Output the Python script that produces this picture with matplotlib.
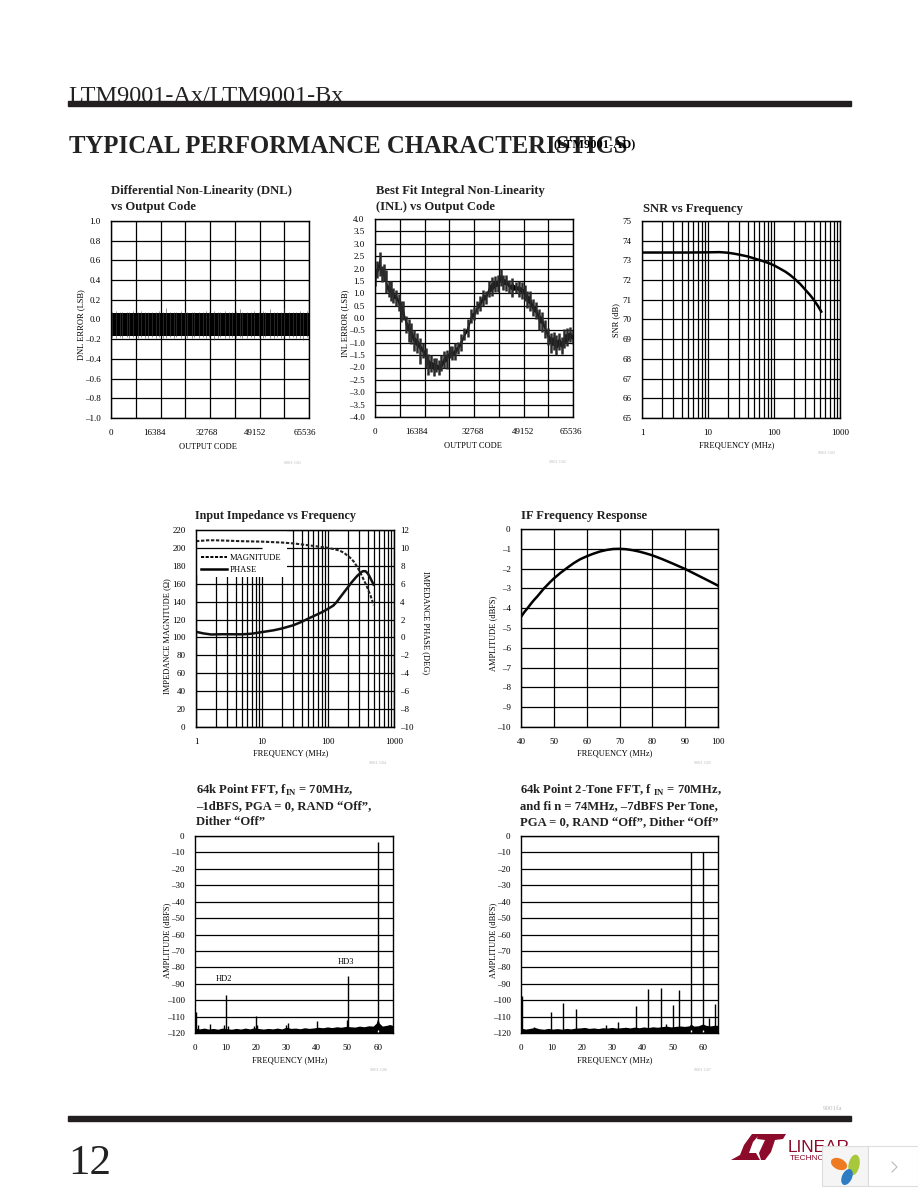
import matplotlib
matplotlib.use("Agg")
import matplotlib.pyplot as plt
from matplotlib.lines import Line2D
from matplotlib.patches import Rectangle, Polygon, Ellipse
from matplotlib.transforms import ScaledTranslation

plt.rcParams['font.family'] = ['Liberation Serif', 'DejaVu Serif']
plt.rcParams['mathtext.fontset'] = 'custom'
plt.rcParams['mathtext.rm'] = 'Liberation Serif:bold'
plt.rcParams['mathtext.bf'] = 'Liberation Serif:bold'

W, H = 918, 1188

# DNL noise band and the spikes sticking out of it
dnl_band_code = [0, 65536]
dnl_band_hi = [0.068, 0.068]
dnl_band_lo = [-0.172, -0.172]
dnl_spike_code = [400, 1500, 2900, 3600, 5200, 6100, 7400, 8800, 9900, 11300, 12100, 13700, 14800, 15900, 17200, 18300,
                  19600, 20700, 21500, 23100, 24400, 25200, 26700, 27600, 29100, 30300, 31500, 32600, 34100, 35300,
                  36200, 37800, 38900, 40100, 41400, 42700, 43500, 45100, 46400, 47300, 48900, 50200, 51000, 52600,
                  53900, 55100, 56300, 57400, 58900, 60100, 61200, 62500, 63700, 64900]
dnl_spike_hi = [0.078, 0.085, 0.075, 0.08, 0.076, 0.074, 0.09, 0.078, 0.082, 0.074, 0.078, 0.08, 0.075, 0.085, 0.078, 0.115,
                0.08, 0.076, 0.074, 0.082, 0.09, 0.076, 0.074, 0.08, 0.078, 0.074, 0.085, 0.076, 0.09, 0.074,
                0.078, 0.082, 0.074, 0.076, 0.085, 0.105, 0.078, 0.08, 0.074, 0.09, 0.076, 0.085, 0.074, 0.11,
                0.08, 0.076, 0.074, 0.115, 0.08, 0.076, 0.074, 0.085, 0.078, 0.082]
dnl_spike_lo = [-0.182, -0.188, -0.18, -0.19, -0.182, -0.186, -0.18, -0.192, -0.182, -0.186, -0.19, -0.18, -0.186, -0.182, -0.19, -0.186,
                -0.18, -0.192, -0.182, -0.186, -0.18, -0.19, -0.186, -0.182, -0.192, -0.18, -0.186, -0.182, -0.205, -0.186,
                -0.18, -0.19, -0.186, -0.182, -0.192, -0.18, -0.186, -0.19, -0.182, -0.186, -0.18, -0.192, -0.182, -0.186,
                -0.19, -0.18, -0.186, -0.182, -0.19, -0.18, -0.186, -0.192, -0.205, -0.182]

# INL envelope
inl_code = [0, 700, 1500, 2200, 3000, 3700, 4500, 5300, 6000, 7000, 7800, 8500, 9300, 10200, 11100, 12000,
            13000, 14000, 14900, 15800, 16800, 17600, 18500, 19400, 20300, 21200, 22000, 22800, 23700, 24700,
            25600, 26600, 27500, 28500, 29500, 30800, 31900, 32900, 33800, 34700, 35700, 36600, 37700, 38700,
            39700, 40700, 41600, 42500, 43500, 44500, 45500, 46600, 47500, 48500, 49500, 50300, 51200, 52200,
            53200, 54200, 55200, 56200, 57200, 58200, 59100, 60000, 60900, 61800, 62700, 63700, 64600, 65536]
inl_hi = [2.0, 2.3, 2.65, 2.1, 2.2, 1.95, 1.5, 1.5, 1.2, 1.15, 0.95, 0.7, 0.7, 0.1, -0.05, -0.2,
          -0.5, -0.6, -0.8, -1.0, -1.2, -1.45, -1.5, -1.6, -1.6, -1.7, -1.5, -1.35, -1.3, -1.15,
          -1.15, -1.0, -0.95, -0.65, -0.4, -0.05, 0.35, 0.45, 0.7, 0.9, 1.15, 1.1, 1.5, 1.65,
          1.7, 1.75, 2.0, 1.75, 1.75, 1.55, 1.6, 1.45, 1.5, 1.45, 1.35, 1.1, 1.1, 0.75,
          0.65, 0.35, 0.25, -0.1, -0.4, -0.6, -0.55, -0.7, -0.6, -0.75, -0.45, -0.4, -0.35, -0.5]
inl_lo = [1.3, 1.6, 1.7, 1.45, 1.5, 1.0, 0.85, 0.7, 0.6, 0.5, 0.3, -0.15, -0.1, -0.6, -0.95, -1.05,
          -1.35, -1.4, -1.85, -1.6, -2.0, -2.3, -2.2, -2.35, -2.2, -2.3, -2.15, -2.0, -2.05, -1.6,
          -1.7, -1.7, -1.45, -1.35, -0.9, -0.75, -0.2, -0.1, 0.15, 0.3, 0.5, 0.55, 0.85, 0.9,
          1.05, 1.05, 1.3, 1.15, 1.1, 1.0, 0.85, 1.0, 0.85, 0.75, 0.7, 0.4, 0.3, 0.1,
          -0.05, -0.5, -0.55, -0.8, -1.1, -1.4, -1.3, -1.5, -1.3, -1.45, -1.2, -1.15, -0.95, -1.05]
inl_core_hi = [1.85, 2.1, 2.45, 1.9, 2.05, 1.45, 1.3, 1.25, 1.0, 0.95, 0.75, 0.5, 0.45, -0.1, -0.25, -0.45,
               -0.75, -0.85, -1.05, -1.2, -1.4, -1.65, -1.75, -1.8, -1.85, -1.9, -1.75, -1.55, -1.5, -1.3,
               -1.35, -1.2, -1.1, -0.85, -0.6, -0.25, 0.2, 0.25, 0.55, 0.7, 0.95, 0.95, 1.3, 1.45,
               1.5, 1.55, 1.8, 1.6, 1.55, 1.35, 1.4, 1.3, 1.3, 1.25, 1.15, 0.9, 0.9, 0.55,
               0.45, 0.15, 0.05, -0.3, -0.6, -0.8, -0.75, -0.9, -0.8, -0.95, -0.65, -0.6, -0.55, -0.7]
inl_core_lo = [1.55, 1.8, 2.05, 1.7, 1.7, 1.2, 1.05, 1.0, 0.8, 0.75, 0.5, 0.15, 0.15, -0.4, -0.55, -0.8,
               -1.05, -1.15, -1.3, -1.4, -1.75, -2.0, -2.0, -2.1, -2.05, -2.1, -2.0, -1.8, -1.75, -1.45,
               -1.5, -1.45, -1.25, -1.1, -0.75, -0.5, 0.0, 0.1, 0.35, 0.45, 0.7, 0.75, 1.05, 1.1,
               1.25, 1.3, 1.5, 1.35, 1.35, 1.2, 1.1, 1.15, 1.1, 1.0, 0.95, 0.65, 0.55, 0.3,
               0.2, -0.15, -0.25, -0.5, -0.85, -1.1, -1.1, -1.25, -1.1, -1.2, -1.0, -0.95, -0.8, -0.9]

# SNR
snr_f = [1, 2, 5, 10, 15, 20, 25, 30, 40, 50, 60, 70, 85, 100, 125, 150, 175, 200, 250, 300, 350, 400, 460, 520]
snr_db = [73.4, 73.4, 73.4, 73.41, 73.42, 73.39, 73.34, 73.29, 73.2, 73.1, 73.02, 72.95, 72.85, 72.75, 72.57, 72.42,
          72.26, 72.1, 71.8, 71.5, 71.25, 71.0, 70.7, 70.4]

# impedance
imp_f = [1, 1.5, 2, 5, 10, 20, 30, 50, 80, 100, 125, 150, 175, 200, 225, 250, 270, 286, 310, 330, 355, 383, 410, 440, 465, 493]
imp_mag = [207.5, 208.5, 208.5, 207.5, 207, 206, 205, 203, 201, 200, 198.5, 197, 194.5, 191, 188, 184, 180, 177, 172, 168,
           163, 158, 152.5, 147, 141.5, 136]
phase_f = [1, 1.3, 1.7, 2.5, 5, 7, 10, 15, 20, 30, 40, 50, 70, 85, 100, 120, 135, 150, 175, 200, 225, 250, 275, 300, 320, 340,
           370, 400, 420, 440, 465, 490]
phase_deg = [0.63, 0.45, 0.33, 0.36, 0.35, 0.42, 0.6, 0.8, 1.0, 1.37, 1.75, 2.1, 2.6, 2.9, 3.2, 3.55, 3.95, 4.4, 5.05, 5.6, 6.1,
             6.5, 6.85, 7.1, 7.3, 7.4, 7.4, 7.15, 6.9, 6.6, 6.25, 5.9]

# IF response
if_f = [40, 41, 42, 43, 44, 45, 46, 47, 48, 49, 50, 52, 54, 56, 58, 60, 62, 64, 66, 68, 70, 72, 74, 76, 78, 80, 83, 86, 90, 93, 96, 100]
if_db = [-4.44, -4.2, -4.0, -3.78, -3.58, -3.4, -3.2, -3.0, -2.83, -2.66, -2.5, -2.22, -1.97, -1.73, -1.53, -1.38, -1.25, -1.14,
         -1.06, -1.01, -1.0, -1.02, -1.07, -1.14, -1.23, -1.33, -1.52, -1.73, -2.02, -2.27, -2.52, -2.86]

# FFT 1
fft1_f = [0.3, 1.0, 5.0, 9.5, 10.1, 10.8, 19.4, 20.0, 20.5, 30.0, 30.4, 40.1, 50.0, 50.2, 60.0, 64.0]
fft1_db = [-107, -115, -114.5, -115, -96.7, -115.5, -115.5, -109.5, -115, -115, -114, -112.5, -112, -85, -3.9, -115.5]
fft1_floor_f = [0, 1.5, 3, 4.5, 6, 7.5, 9, 10.5, 12, 13.5, 15, 16.5, 18, 19.5, 21, 22.5, 24, 25.5, 27, 28.5, 30, 31.5, 33, 34.5,
                36, 37.5, 39, 40.5, 42, 43.5, 45, 46.5, 48, 49.5, 51, 52.5, 54, 55.5, 57, 58.5, 59.5, 60, 60.5, 61.5, 63, 64, 65]
fft1_floor_db = [-117, -117.5, -117, -117.6, -117.2, -117.7, -117, -117.4, -117.7, -117.2, -117.6, -117, -117.5, -116.8, -117.3,
                 -117.6, -117.2, -117.5, -117, -117.5, -116.5, -117.2, -117, -117.4, -116.8, -117.2, -116.9, -116.5, -116.8, -116.3,
                 -116.7, -116.2, -116.5, -116, -116.2, -116.4, -115.8, -116.2, -115.6, -115.8, -114, -111, -114, -115.8, -115.3,
                 -114.8, -115.5]
fft1_notch = [60]

# FFT 2
fft2_f = [0.2, 4.3, 10, 14, 18, 28, 32, 38, 42, 46.2, 48, 50, 52, 56, 60, 62, 64]
fft2_db = [-97.5, -116.5, -107, -102, -105.5, -115, -113, -103.5, -93, -92.5, -114.5, -103, -94, -10, -10, -110.7, -102.5]
fft2_floor_f = [0, 1.5, 3, 4.5, 6, 7.5, 9, 10.5, 12, 13.5, 15, 16.5, 18, 19.5, 21, 22.5, 24, 25.5, 27, 28.5, 30, 31.5, 33, 34.5,
                36, 37.5, 39, 40.5, 42, 43.5, 45, 46.5, 48, 49.5, 51, 52.5, 54, 55.5, 56, 57, 58.5, 60, 61, 62.5, 64, 65]
fft2_floor_db = [-117, -117.6, -117.2, -116.6, -117.4, -117.7, -117.2, -117.6, -117.3, -117.7, -117.2, -117.5, -117, -116.9, -116.6,
                 -117.2, -116.9, -117.3, -116.8, -117, -116.6, -117, -116.8, -116.5, -116.9, -116.4, -116.8, -116.3, -116.7, -116.2,
                 -116.5, -116.1, -115.8, -116.3, -116, -115.7, -116, -115.6, -114.5, -115.8, -115.6, -114.5, -115.3, -115.7, -115.2, -115.4]
fft2_notch = [56, 60]

fig = plt.figure(figsize=(W / 100, H / 100), dpi=100)

page = fig.add_axes([0, 0, 1, 1], zorder=5)
page.set_xlim(0, W)
page.set_ylim(H, 0)
page.axis('off')
page.patch.set_alpha(0)


def txt(x, y, s, size=6.0, ha='center', va='center', **kw):
    page.text(x, y, s, fontsize=size, ha=ha, va=va, **kw)


def panel(left, top, right, bottom):
    ax = fig.add_axes([left / W, 1 - bottom / H, (right - left) / W, (bottom - top) / H])
    for s in ax.spines.values():
        s.set_linewidth(1.0)
    ax.tick_params(which='both', length=0, labelsize=6.5)
    ax.tick_params(axis='x', which='both', pad=8)
    ax.tick_params(axis='y', which='both', pad=7.5)
    ax.grid(True, color='k', lw=0.9)
    ax.set_axisbelow(True)
    return ax


def dash(vals, fmt):
    return [fmt.format(v).replace('-', '\u2013') for v in vals]


def nudge_xlabels(ax, dxs):
    # the printed labels do not sit exactly under their grid lines
    for lab, dx in zip(ax.get_xticklabels(), dxs):
        lab.set_transform(lab.get_transform() + ScaledTranslation(dx / 100, 0, fig.dpi_scale_trans))


# header
txt(68, 102, 'LTM9001-Ax/LTM9001-Bx', size=17.5, ha='left', va='baseline', color='#222222')
page.add_patch(Rectangle((68, 101), 783, 5, color='#231f20', zorder=3))
txt(69, 153, 'TYPICAL PERFORMANCE CHARACTERISTICS', size=17.85, ha='left', va='baseline', weight='bold', color='#222222')
txt(553, 145.5, '(LTM9001-AD)', size=8.9, ha='left', weight='bold')

code_ticks = range(0, 65537, 8192)
code_labels = ['0', '', '16384', '', '32768', '', '49152', '', '65536']

# DNL
ax = panel(111, 221, 309, 418)
ax.vlines(dnl_spike_code, dnl_spike_lo, dnl_spike_hi, color='#444444', lw=0.4)
ax.fill_between(dnl_band_code, dnl_band_lo, dnl_band_hi, color='k', lw=0)
ax.set_xlim(0, 65536)
ax.set_ylim(-1, 1)
ax.set_xticks(code_ticks, code_labels)
ax.set_yticks([v / 10 for v in range(-10, 11, 2)], dash([v / 10 for v in range(-10, 11, 2)], '{:.1f}'))
nudge_xlabels(ax, [0, 0, -6, 0, -3, 0, -4, 0, -4])

# INL
ax = panel(375, 219, 573, 417)
ax.vlines(inl_code, inl_lo, inl_hi, color='#2a2a2a', lw=1.8)
ax.fill_between(inl_code, inl_core_lo, inl_core_hi, color='k', lw=0)
ax.set_xlim(0, 65536)
ax.set_ylim(-4, 4)
ax.set_xticks(code_ticks, code_labels)
ax.set_yticks([v / 2 for v in range(-8, 9)], dash([v / 2 for v in range(-8, 9)], '{:.1f}'))
nudge_xlabels(ax, [0, 0, -8, 0, -1, 0, -1, 0, -2])

decades = [1, 10, 100, 1000]
log_minor = [m * d for d in (1, 10, 100) for m in range(2, 10)]

# SNR
ax = panel(642, 221, 840, 418)
ax.plot(snr_f, snr_db, color='k', lw=1.8)
ax.set_xscale('log')
ax.set_xlim(1, 1000)
ax.set_ylim(65, 75)
ax.set_xticks(decades, [str(d) for d in decades])
ax.set_xticks(log_minor, minor=True)
ax.set_xticklabels([], minor=True)
ax.set_yticks(range(65, 76), [str(v) for v in range(65, 76)])
ax.grid(True, which='minor', axis='x', color='k', lw=0.9)
ax.tick_params(which='both', length=0)

# impedance
ax = panel(196, 530, 394, 727)
# the printed legend blanks the grid above and behind it, apart from the 200 ohm line
ax.add_patch(Rectangle((0, 0.772), 0.46, 0.228, transform=ax.transAxes, fc='white', ec='none', zorder=1))
ax.hlines(200, 1, 10, color='k', lw=0.9, zorder=1.5)
ax.plot(imp_f, imp_mag, color='#222222', lw=1.5, ls=(0, (1.6, 0.8)))
ax.set_xscale('log')
ax.set_xlim(1, 1000)
ax.set_ylim(0, 220)
ax.set_xticks(decades, [str(d) for d in decades])
ax.set_xticks(log_minor, minor=True)
ax.set_xticklabels([], minor=True)
ax.set_yticks(range(0, 221, 20), [str(v) for v in range(0, 221, 20)])
ax.grid(True, which='minor', axis='x', color='k', lw=0.9)
ax.tick_params(which='both', length=0)
ax2 = ax.twinx()
ax2.plot(phase_f, phase_deg, color='#111111', lw=1.8)
ax2.set_ylim(-10, 12)
ax2.set_yticks(range(-10, 13, 2), dash(range(-10, 13, 2), '{}'))
ax2.tick_params(length=0, labelsize=6.5, pad=4.5)
handles = [Line2D([], [], color='k', lw=1.4, ls=(0, (1.6, 0.8))), Line2D([], [], color='k', lw=1.8)]
ax2.legend(handles, ['MAGNITUDE', 'PHASE'], loc='upper left', bbox_to_anchor=(0.015, 0.89),
           fontsize=6.1, frameon=True, framealpha=1, edgecolor='none', fancybox=False, borderpad=0.25,
           borderaxespad=0, handlelength=3.0, handletextpad=0.4, labelspacing=0.55)

# IF
ax = panel(521, 529, 718, 727)
ax.plot(if_f, if_db, color='k', lw=1.8)
ax.set_xlim(40, 100)
ax.set_ylim(-10, 0)
ax.set_xticks(range(40, 101, 10), [str(v) for v in range(40, 101, 10)])
ax.set_yticks(range(-10, 1), dash(range(-10, 1), '{}'))

# FFT panels
for box, f, db, ff, fd, notch in [((195, 836, 393, 1033), fft1_f, fft1_db, fft1_floor_f, fft1_floor_db, fft1_notch),
                                  ((521, 836, 718, 1033), fft2_f, fft2_db, fft2_floor_f, fft2_floor_db, fft2_notch)]:
    ax = panel(*box)
    ax.grid(False, axis='x')
    ax.fill_between(ff, -120, fd, color='k', lw=0)
    ax.vlines(f, -120, db, color='k', lw=1.0)
    ax.vlines(notch, -119.5, -118, color='white', lw=1.0)
    ax.set_xlim(0, 65)
    ax.set_ylim(-120, 0)
    ax.set_xticks(range(0, 61, 10), [str(v) for v in range(0, 61, 10)])
    ax.set_yticks(range(-120, 1, 10), dash(range(-120, 1, 10), '{}'))

# titles
title_kw = dict(size=9.05, ha='left', weight='bold', color='#222222')
txt(111, 191, 'Differential Non-Linearity (DNL)', **title_kw)
txt(111, 207, 'vs Output Code', **title_kw)
txt(376, 191, 'Best Fit Integral Non-Linearity', **title_kw)
txt(376, 207, '(INL) vs Output Code', **title_kw)
txt(643, 209, 'SNR vs Frequency', **title_kw)
txt(195, 516, 'Input Impedance vs Frequency', size=8.75, ha='left', weight='bold', color='#222222')
txt(521, 516, 'IF Frequency Response', **title_kw)
txt(196, 790, '64k Point FFT, f$_{\\mathbf{IN}}$ = 70MHz,', **title_kw)
txt(196, 806, '\u20131dBFS, PGA = 0, RAND \u201cOff\u201d,', **title_kw)
txt(196, 822, 'Dither \u201cOff\u201d', **title_kw)
txt(520, 790, '64k Point 2-Tone FFT, f $_{\\mathbf{IN}}$ = 70MHz,', **title_kw)
txt(520, 806, 'and fi n = 74MHz, \u20137dBFS Per Tone,', **title_kw)
txt(520, 822, 'PGA = 0, RAND \u201cOff\u201d, Dither \u201cOff\u201d', **title_kw)

# axis labels
txt(208, 447, 'OUTPUT CODE')
txt(473, 446, 'OUTPUT CODE')
txt(737, 445, 'FREQUENCY (MHz)')
txt(291, 753, 'FREQUENCY (MHz)')
txt(615, 753, 'FREQUENCY (MHz)')
txt(290, 1060, 'FREQUENCY (MHz)')
txt(615, 1060, 'FREQUENCY (MHz)')
txt(81, 325, 'DNL ERROR (LSB)', rotation=90)
txt(345, 323, 'INL ERROR (LSB)', rotation=90)
txt(616, 320, 'SNR (dB)', rotation=90)
txt(167, 636, 'IMPEDANCE MAGNITUDE (\u03a9)', rotation=90)
txt(426, 623, 'IMPEDANCE PHASE (DEG)', rotation=270)
txt(493, 633, 'AMPLITUDE (dBFS)', rotation=90)
txt(167, 940, 'AMPLITUDE (dBFS)', rotation=90)
txt(493, 940, 'AMPLITUDE (dBFS)', rotation=90)
txt(224, 979, 'HD2')
txt(346, 962, 'HD3')

# figure codes
for x, y, code in [(293, 463, 'G01'), (558, 462, 'G02'), (827, 453, 'G03'), (378, 763, 'G04'),
                   (703, 763, 'G05'), (378, 1070, 'G06'), (703, 1070, 'G07')]:
    txt(x, y, '9001 ' + code, size=3.2, color='#bbbbbb')

# footer
page.add_patch(Rectangle((68, 1116), 783, 5, color='#231f20'))
txt(823, 1108, '9001fa', size=5, ha='left', color='#bbbbbb')
txt(68, 1174, '12', size=31, ha='left', va='baseline', color='#222222')

red = '#8c0a2a'
page.add_patch(Polygon([(731, 1160), (740, 1155), (744, 1145), (752, 1134), (760, 1134), (753, 1142), (749, 1153),
                        (756, 1153), (760, 1160)], color=red, lw=0))
page.add_patch(Polygon([(758, 1134), (786, 1134), (783, 1139), (775, 1140), (771, 1152), (765, 1160), (761, 1160),
                        (759, 1153), (765, 1140), (757, 1139)], color=red, lw=0))
txt(788, 1152, 'LINEAR', size=12.4, ha='left', va='baseline', color=red, family=['Liberation Sans'])
txt(790, 1158, 'TECHNOLOGY', size=6, ha='left', color=red, family=['Liberation Sans'])

# page widget
page.add_patch(Rectangle((822, 1146), 46, 40, fc='#f5f5f5', ec='#dddddd', lw=0.8, zorder=6))
page.add_patch(Rectangle((868, 1146), 50, 40, fc='white', ec='#dddddd', lw=0.8, zorder=6))
page.add_patch(Ellipse((839, 1164), 17, 11, angle=25, color='#ee7a22', lw=0, zorder=7))
page.add_patch(Ellipse((854, 1165), 11, 21, angle=12, color='#a8c83c', lw=0, zorder=7))
page.add_patch(Ellipse((847, 1177), 10, 17, angle=25, color='#2e7cc4', lw=0, zorder=7))
page.plot([892, 897, 892], [1162, 1167, 1172], color='#bbbbbb', lw=0.8, zorder=7)

fig.savefig('out.png', dpi=100)
